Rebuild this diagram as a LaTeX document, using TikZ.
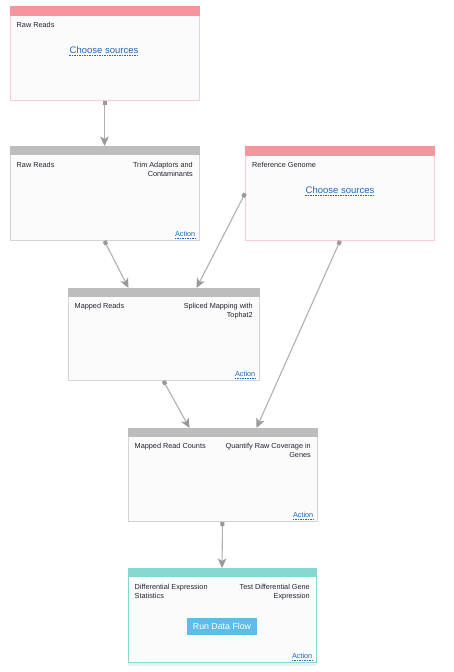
\documentclass[tikz,border=0pt]{standalone}
\usepackage{fontspec}
\setmainfont{Liberation Sans}
\usetikzlibrary{arrows.meta,shadows}
\definecolor{pinkhd}{HTML}{F7959F}
\definecolor{pinkbd}{HTML}{F9CDD3}
\definecolor{grayhd}{HTML}{BDBDBD}
\definecolor{graybd}{HTML}{D4D4D4}
\definecolor{tealhd}{HTML}{86D7CD}
\definecolor{boxfill}{HTML}{FCFBFC}
\definecolor{linkblue}{HTML}{1F66B8}
\definecolor{txt}{HTML}{222230}
\definecolor{connc}{HTML}{B0B0B0}
\definecolor{tipc}{HTML}{999999}
\definecolor{btn}{HTML}{5DBDEA}
\tikzset{
  box/.style={rectangle, anchor=north west, minimum width=189pt, minimum height=94pt, fill=boxfill, line width=1pt, inner sep=0pt},
  lbl/.style={inner sep=0pt, text=txt, font=\fontsize{7.3}{9}\selectfont},
  lblr/.style={lbl, anchor=north east, align=right},
  lbll/.style={lbl, anchor=north west, align=left},
  chs/.style={inner sep=0pt, text=linkblue, font=\fontsize{9.5}{11}\selectfont, anchor=base},
  act/.style={inner sep=0pt, text=linkblue, font=\fontsize{7.3}{9}\selectfont, anchor=base east},
  dul/.style={draw=linkblue, dashed, dash pattern=on 1.5pt off 1pt, line width=0.6pt},
  conn/.style={draw=connc, line width=1.1pt, {Square[length=4pt,width=4pt,fill=tipc,color=tipc]}-{Stealth[length=9.5pt,width=8.5pt,inset=2.5pt,fill=tipc,color=tipc]}}
}
\begin{document}
\begin{tikzpicture}[x=1pt,y=-1pt]
\useasboundingbox[fill=white] (0,0) rectangle (454,672);

% boxes
\node[box, draw=pinkbd] (b1) at (9.5,5.5) {};
\node[box, draw=graybd] (b2) at (9.5,146) {};
\node[box, draw=pinkbd] (b3) at (245,146) {};
\node[box, draw=graybd, minimum width=191pt, minimum height=92pt] (b4) at (67.5,288) {};
\node[box, draw=graybd, minimum width=189pt, minimum height=93pt] (b5) at (127.5,428) {};
\node[box, draw=tealhd, minimum width=188pt, minimum height=94pt, drop shadow={opacity=0.12, shadow xshift=0pt, shadow yshift=-3pt}] (b6) at (127.5,568) {};

% headers
\fill[pinkhd] (b1.north west) rectangle ([yshift=-10pt]b1.north east);
\fill[grayhd] (b2.north west) rectangle ([yshift=-9pt]b2.north east);
\fill[pinkhd] (b3.north west) rectangle ([yshift=-10pt]b3.north east);
\fill[grayhd] (b4.north west) rectangle ([yshift=-8.5pt]b4.north east);
\fill[grayhd] (b5.north west) rectangle ([yshift=-8.5pt]b5.north east);
\fill[tealhd] (b6.north west) rectangle ([yshift=-9pt]b6.north east);

% box 1
\node[lbll] (t1) at ([xshift=7pt,yshift=-16.5pt]b1.north west) {Raw Reads};
\node[chs] (c1) at (104,53) {Choose sources};
\draw[dul] ([yshift=-2.5pt]c1.base west) -- ([yshift=-2.5pt]c1.base east);

% box 2
\node[lbll] (t2a) at ([xshift=7pt,yshift=-16.5pt]b2.north west) {Raw Reads};
\node[lblr] (t2b) at ([xshift=-6.5pt,yshift=-16.5pt]b2.north east) {Trim Adaptors and\\Contaminants};
\node[act] (a2) at ([xshift=-4pt,yshift=5pt]b2.south east) {Action};
\draw[dul] ([yshift=-2.3pt]a2.base west) -- ([yshift=-2.3pt]a2.base east);

% box 3
\node[lbll] (t3) at ([xshift=7pt,yshift=-16.5pt]b3.north west) {Reference Genome};
\node[chs] (c3) at (340,193) {Choose sources};
\draw[dul] ([yshift=-2.5pt]c3.base west) -- ([yshift=-2.5pt]c3.base east);

% box 4
\node[lbll] (t4a) at ([xshift=7pt,yshift=-15.5pt]b4.north west) {Mapped Reads};
\node[lblr] (t4b) at ([xshift=-6.5pt,yshift=-15.5pt]b4.north east) {Spliced Mapping with\\Tophat2};
\node[act] (a4) at ([xshift=-4pt,yshift=5pt]b4.south east) {Action};
\draw[dul] ([yshift=-2.3pt]a4.base west) -- ([yshift=-2.3pt]a4.base east);

% box 5
\node[lbll] (t5a) at ([xshift=7pt,yshift=-15.5pt]b5.north west) {Mapped Read Counts};
\node[lblr] (t5b) at ([xshift=-6.5pt,yshift=-15.5pt]b5.north east) {Quantify Raw Coverage in\\Genes};
\node[act] (a5) at ([xshift=-4pt,yshift=5pt]b5.south east) {Action};
\draw[dul] ([yshift=-2.3pt]a5.base west) -- ([yshift=-2.3pt]a5.base east);

% box 6
\node[lbll] (t6a) at ([xshift=7pt,yshift=-16pt]b6.north west) {Differential Expression\\Statistics};
\node[lblr] (t6b) at ([xshift=-6.5pt,yshift=-16pt]b6.north east) {Test Differential Gene\\Expression};
\node[fill=btn, text=white, font=\fontsize{8.8}{10}\selectfont, minimum width=70pt, minimum height=17pt, inner sep=0pt] (run) at (222,626.5) {Run Data Flow};
\node[act] (a6) at ([xshift=-4pt,yshift=5pt]b6.south east) {Action};
\draw[dul] ([yshift=-2.3pt]a6.base west) -- ([yshift=-2.3pt]a6.base east);

% connectors
\draw[conn] (b1.south) -- (b2.north);
\draw[conn] (b2.south) -- ([xshift=-35pt]b4.north);
\draw[conn] (b3.west) -- ([xshift=33pt]b4.north);
\draw[conn] (b3.south) -- ([xshift=34pt]b5.north);
\draw[conn] (b4.south) -- ([xshift=-33pt]b5.north);
\draw[conn] (b5.south) -- (b6.north);
\end{tikzpicture}
\end{document}
